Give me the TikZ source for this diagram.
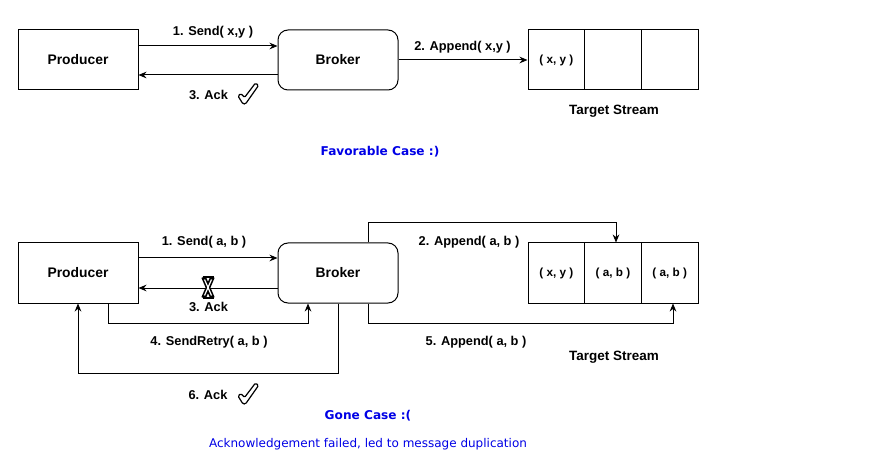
\documentclass[tikz,border=0pt]{standalone}
\usepackage{fontspec}
\setmainfont{Liberation Sans}
\newfontfamily\verdanalike{DejaVu Sans}
\usetikzlibrary{arrows.meta}
\definecolor{caseblue}{RGB}{0,0,230}
\tikzset{
  box/.style={draw, line width=0.75pt, minimum width=90pt, minimum height=45pt, inner sep=0pt, font=\fontsize{10.4}{12}\selectfont\bfseries},
  rbox/.style={box, rounded corners=7.5pt},
  cell/.style={draw, line width=0.75pt, minimum width=42.5pt, minimum height=45pt, inner sep=0pt, font=\fontsize{8.8}{10}\selectfont\bfseries},
  conn/.style={line width=0.75pt, -{Stealth[length=6pt,width=5pt]}},
  lbl/.style={font=\fontsize{9.6}{11}\selectfont\bfseries, inner sep=0pt},
  title/.style={font=\fontsize{10.1}{12}\selectfont\bfseries, inner sep=0pt},
  casetitle/.style={text=caseblue, font=\verdanalike\fontsize{9.1}{11}\selectfont\bfseries, inner sep=0pt},
  note/.style={text=caseblue, font=\verdanalike\fontsize{9}{11}\selectfont, inner sep=0pt},
  checkmark/.style={line width=0.9pt, line join=round, rounded corners=1pt}
}
\newcommand{\drawcheck}[1]{%
  \draw[checkmark, shift={#1}] (0,13) -- (3,10.5) -- (6.5,14.5) -- (17.5,0) -- (20.5,2.5) -- (7.5,21) -- (5,21) -- cycle;}
\begin{document}
\begin{tikzpicture}[x=0.75pt, y=-0.75pt]
\useasboundingbox[fill=white] (0,0) rectangle (874,470);

% ---------- Favorable case ----------
\node[box]  (p1) at (78,60) {Producer};
\node[rbox] (b1) at (338,60) {Broker};
\node[cell] (t1a) at (556.33,60) {( x, y )};
\node[cell] (t1b) at (613,60) {};
\node[cell] (t1c) at (669.67,60) {};

\draw[conn] (p1.east |- 0,46) -- (b1.west |- 0,46);
\node[lbl] (send1) at (213,32) {1. Send( x,y )};
\draw[conn] (b1.west |- 0,75) -- (p1.east |- 0,75);
\node[lbl] (ack1) at (208.5,95) {3. Ack};
\drawcheck{(238,83)}
\draw[conn] (b1.east) -- (t1a.west);
\node[lbl] (app1) at (462.5,47) {2. Append( x,y )};
\node[title] (ts1) at (614,111) {Target Stream};
\node[casetitle] (fav) at (380,152) {Favorable Case :)};

% ---------- Gone case ----------
\node[box]  (p2) at (78,273) {Producer};
\node[rbox] (b2) at (338,273) {Broker};
\node[cell] (t2a) at (556.33,273) {( x, y )};
\node[cell] (t2b) at (613,273) {( a, b )};
\node[cell] (t2c) at (669.67,273) {( a, b )};

\draw[conn] (p2.east |- 0,258) -- (b2.west |- 0,258);
\node[lbl] (send2) at (204,242) {1. Send( a, b )};
\draw[conn] (b2.west |- 0,288) -- (p2.east |- 0,288);
\node[lbl] (ack2) at (208.5,307) {3. Ack};
% failure cross
\begin{scope}
  \draw[line width=3.4pt] (203.5,277) -- (212.5,298) (212.5,277) -- (203.5,298);
  \draw[line width=0.9pt, white] (204.5,279.5) -- (211.5,295.5) (211.5,279.5) -- (204.5,295.5);
  \draw[line width=1.2pt] (202.5,277) -- (213.5,277) (202.5,298) -- (213.5,298);
\end{scope}

\coordinate (r1) at (108,323);
\coordinate (r2) at (308,323);
\draw[conn] (p2.south -| 108,0) -- (r1) -- (r2) -- (b2.south -| 308,0);
\node[lbl] (retry) at (209,342) {4. SendRetry( a, b )};

\coordinate (k1) at (338,373);
\coordinate (k2) at (78,373);
\draw[conn] (b2.south) -- (k1) -- (k2) -- (p2.south);
\node[lbl] (ack6) at (208,395) {6. Ack};
\drawcheck{(238,383)}

\coordinate (a1) at (368,223);
\coordinate (a2) at (616,223);
\draw[conn] (b2.north -| 368,0) -- (a1) -- (a2) -- (t2b.north -| 616,0);
\node[lbl] (app2) at (469,242) {2. Append( a, b )};

\coordinate (c1) at (368,323);
\coordinate (c2) at (673,323);
\draw[conn] (b2.south -| 368,0) -- (c1) -- (c2) -- (t2c.south -| 673,0);
\node[lbl] (app5) at (476,342) {5. Append( a, b )};

\node[title] (ts2) at (614,357) {Target Stream};
\node[casetitle] (gone) at (368,416) {Gone Case :(};
\node[note] (msg) at (368,444) {Acknowledgement failed, led to message duplication};
\end{tikzpicture}
\end{document}
